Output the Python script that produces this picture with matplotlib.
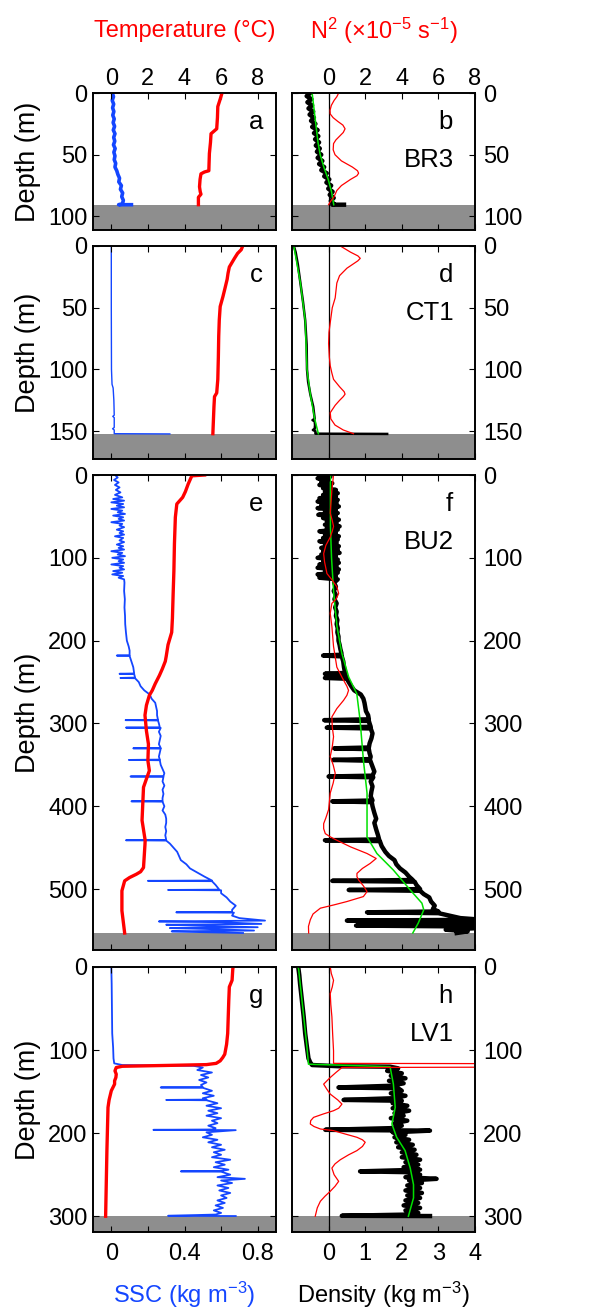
import matplotlib.pyplot as plt

plt.rcParams.update({
    'font.family': ['Liberation Sans', 'DejaVu Sans'],
    'font.size': 17,
    'mathtext.fontset': 'custom',
    'mathtext.rm': 'Liberation Sans',
    'mathtext.it': 'Liberation Sans:italic',
    'axes.linewidth': 1.2,
})

RED = '#ff0000'
BLUE = '#1446ff'
GREEN = '#00e000'
GREY = '#8e8e8e'

# ---- data: (depth m, value) ----
# BR3
a_temp = [(0, 6.05), (5, 5.95), (11, 5.82), (20, 5.8), (29, 5.76), (33, 5.45), (40, 5.42),
          (49, 5.36), (58, 5.34), (63, 5.33), (64, 5.09), (65.5, 4.9), (70, 4.85), (76, 4.82),
          (80, 4.86), (82, 4.9), (84.5, 4.76), (90.5, 4.76)]
a_ssc = [(0, 0.006), (3, 0.012), (6, 0.005), (9, 0.013), (12, 0.007), (15, 0.014), (18, 0.008),
         (21, 0.016), (24, 0.010), (27, 0.018), (30, 0.011), (33, 0.020), (36, 0.013), (39, 0.019),
         (42, 0.012), (45, 0.021), (48, 0.014), (51, 0.020), (54, 0.016), (57, 0.024), (60, 0.020),
         (63, 0.030), (66, 0.036), (69, 0.045), (72, 0.041), (75, 0.055), (78, 0.050), (81, 0.062),
         (84, 0.057), (87, 0.066), (90, 0.060), (90.5, 0.040), (90.5, 0.110)]
b_rho = [(0, -0.5), (2.5, -0.6), (5, -0.47), (7.5, -0.58), (10, -0.45), (12.5, -0.55), (15, -0.42),
         (17.5, -0.52), (20, -0.4), (22.5, -0.48), (25, -0.36), (27.5, -0.45), (30, -0.3),
         (32.5, -0.4), (35, -0.28), (37.5, -0.37), (40, -0.26), (42.5, -0.35), (45, -0.24),
         (47.5, -0.32), (50, -0.2), (52.5, -0.3), (55, -0.17), (57.5, -0.26), (60, -0.12),
         (62.5, -0.2), (65, -0.05), (67.5, -0.12), (70, 0.02), (72.5, -0.06), (75, 0.07),
         (77.5, -0.01), (80, 0.11), (82.5, 0.03), (85, 0.14), (87.5, 0.06), (90, 0.15),
         (90.5, 0.1), (90.5, 0.42)]
b_fit = [(0, -0.45), (20, -0.37), (40, -0.29), (50, -0.23), (60, -0.13), (70, -0.01), (80, 0.08),
         (90.5, 0.14)]
b_n2 = [(0, 0.55), (3, 0.45), (6, 0.3), (10, 0.15), (14, 0.08), (17, 0.09), (20, 0.25), (23, 0.5),
        (26, 0.78), (29, 0.9), (32, 0.8), (35, 0.6), (38, 0.4), (41, 0.27), (46, 0.25), (50, 0.35),
        (55, 0.7), (60, 1.3), (63, 1.58), (65, 1.64), (67, 1.55), (70, 1.2), (75, 0.7), (79, 0.45),
        (84, 0.3), (88, 0.1), (90.5, 0.0)]

# CT1
c_temp = [(0, 7.18), (3, 7.1), (6, 6.9), (10, 6.73), (17, 6.45), (22, 6.38), (27, 6.33), (35, 6.2),
          (41, 6.1), (49, 5.95), (60, 5.9), (73, 5.87), (90, 5.85), (108, 5.82), (119, 5.76),
          (122, 5.64), (130, 5.61), (141, 5.58), (152, 5.55)]
c_ssc = [(0, 0.0), (50, 0.0), (100, 0.001), (112, 0.004), (115, 0.01), (125, 0.014), (137, 0.016),
         (138, 0.008), (139, 0.016), (147, 0.016), (148, 0.007), (149, 0.016), (152, 0.016),
         (152.2, 0.32)]
d_rho = [(0, -0.95), (5, -0.9), (15, -0.84), (30, -0.77), (45, -0.7), (60, -0.64), (80, -0.6),
         (100, -0.59), (110, -0.56), (120, -0.5), (130, -0.42), (140, -0.38), (141, -0.44),
         (142, -0.38), (145, -0.37), (148, -0.38), (149, -0.43), (150, -0.36), (152, -0.36),
         (152.2, 1.6)]
d_fit = [(0, -0.95), (30, -0.77), (60, -0.64), (100, -0.59), (120, -0.5), (140, -0.38), (152, -0.28)]
d_n2 = [(0, 0.64), (5, 1.2), (8, 1.6), (10, 1.73), (12, 1.6), (14, 1.4), (18, 1.0), (24, 0.6),
        (30, 0.45), (42, 0.36), (50, 0.2), (62, 0.09), (70, 0.02), (79, 0.0), (90, 0.04),
        (97, 0.09), (103, 0.18), (108, 0.27), (114, 0.6), (118, 0.85), (120, 0.9), (122, 0.8),
        (125, 0.6), (129, 0.36), (135, 0.09), (140, 0.12), (145, 0.35), (149, 0.8), (152, 1.36)]

# BU2
e_temp = [(0, 5.1), (1, 4.4), (11, 4.2), (20, 4.05), (27, 3.9), (35, 3.58), (51, 3.5), (83, 3.45),
          (116, 3.42), (143, 3.38), (173, 3.34), (190, 3.3), (205, 3.1), (219, 3.0), (225, 2.95),
          (234, 2.79), (242, 2.63), (252, 2.4), (260, 2.24), (266, 2.08), (278, 1.92), (290, 1.84),
          (309, 1.92), (325, 2.03), (345, 2.0), (357, 2.08), (365, 1.95), (377, 1.76), (417, 1.68),
          (441, 1.85), (446, 1.84), (474, 1.76), (479, 1.6), (482, 1.37), (486, 1.0), (490, 0.73),
          (502, 0.58), (526, 0.58), (553, 0.73)]
e_ssc = [(0, 0.02), (3, 0.035), (6, 0.015), (9, 0.04), (12, 0.02), (15, 0.045), (18, 0.025),
         (21, 0.05), (24, 0.02), (27, 0.06), (29, 0.01), (31, 0.07), (33, 0.0), (35, 0.065),
         (37, 0.03), (39, 0.07), (41, 0.0), (43, 0.06), (45, 0.035), (47, 0.075), (49, 0.01),
         (51, 0.065), (53, 0.04), (55, 0.07), (57, 0.0), (59, 0.06), (61, 0.045), (63, 0.07),
         (66, 0.03), (68, 0.065), (70, 0.045), (72, 0.07), (74, 0.02), (76, 0.065), (79, 0.045),
         (81, 0.07), (84, 0.03), (86, 0.065), (88, 0.04), (90, 0.07), (92, 0.0), (94, 0.06),
         (96, 0.035), (98, 0.075), (100, 0.005), (102, 0.065), (104, 0.04), (106, 0.07),
         (108, 0.0), (110, 0.065), (112, 0.045), (114, 0.07), (116, 0.01), (118, 0.06),
         (120, 0.005), (122, 0.065), (124, 0.04), (126, 0.07), (130, 0.072), (140, 0.07),
         (150, 0.074), (160, 0.072), (170, 0.075), (180, 0.076), (190, 0.08), (200, 0.085),
         (207, 0.095), (212, 0.1), (217.6, 0.1), (218, 0.03), (218.4, 0.1), (225, 0.11),
         (232, 0.12), (239.6, 0.125), (240, 0.045), (240.4, 0.125), (244.6, 0.13), (245, 0.05),
         (245.4, 0.13), (250, 0.15), (255, 0.16), (260, 0.18), (265, 0.21), (270, 0.22),
         (275, 0.24), (280, 0.245), (285, 0.25), (290, 0.25), (295.6, 0.255), (296, 0.078),
         (296.4, 0.255), (300, 0.26), (304.6, 0.265), (305, 0.08), (305.4, 0.27), (310, 0.26),
         (315, 0.27), (320, 0.265), (325, 0.26), (329.6, 0.27), (330, 0.12), (330.4, 0.27),
         (335, 0.265), (340, 0.26), (343.6, 0.265), (344, 0.096), (344.4, 0.265), (350, 0.27),
         (355, 0.28), (360, 0.29), (363.6, 0.285), (364, 0.105), (364.4, 0.285), (370, 0.28),
         (375, 0.29), (380, 0.28), (385, 0.285), (390, 0.28), (393.6, 0.28), (394, 0.11),
         (394.4, 0.28), (400, 0.29), (405, 0.28), (410, 0.295), (415, 0.3), (420, 0.3),
         (425, 0.295), (430, 0.3), (435, 0.295), (440.6, 0.3), (441, 0.08), (441.4, 0.3),
         (445, 0.32), (450, 0.34), (455, 0.36), (460, 0.37), (465, 0.38), (470, 0.41), (475, 0.43),
         (480, 0.47), (485, 0.51), (489.6, 0.55), (490, 0.2), (490.4, 0.55), (495, 0.57),
         (500.6, 0.59), (501, 0.31), (501.4, 0.6), (505, 0.6), (510, 0.63), (515, 0.65),
         (520, 0.68), (525, 0.66), (527.6, 0.66), (528, 0.355), (528.4, 0.67), (532, 0.66),
         (535, 0.7), (538, 0.84), (539, 0.26), (540, 0.6), (542, 0.82), (543, 0.3), (544, 0.45),
         (546, 0.8), (547, 0.32), (548, 0.5), (550, 0.78), (551, 0.33), (552, 0.5), (553, 0.72)]
f_rho = [(0, -0.25), (2, 0.05), (4, -0.3), (6, 0.0), (8, -0.2), (10, 0.1), (12, -0.25), (14, 0.05),
         (16, -0.15), (18, 0.2), (20, -0.1), (22, 0.25), (24, -0.15), (26, 0.2), (28, -0.25),
         (30, 0.25), (32, -0.3), (34, 0.22), (36, -0.2), (38, 0.28), (40, -0.3), (42, 0.2),
         (44, -0.1), (46, 0.25), (48, -0.28), (50, 0.2), (52, -0.15), (54, 0.28), (56, -0.05),
         (58, 0.22), (60, -0.1), (62, 0.3), (64, -0.05), (66, 0.25), (68, -0.25), (70, 0.2),
         (72, -0.1), (74, 0.28), (76, -0.15), (78, 0.25), (80, -0.25), (82, 0.22), (84, -0.1),
         (86, 0.28), (88, -0.2), (90, 0.25), (92, -0.15), (94, 0.3), (96, -0.2), (98, 0.2),
         (100, -0.3), (102, 0.25), (104, -0.15), (106, 0.28), (108, -0.25), (110, 0.22),
         (112, -0.3), (114, 0.28), (116, -0.1), (118, 0.25), (120, -0.3), (122, 0.2),
         (124, -0.25), (126, 0.25), (130, 0.15), (135, 0.2), (140, 0.14), (145, 0.2), (150, 0.16),
         (155, 0.22), (160, 0.18), (165, 0.22), (170, 0.2), (175, 0.24), (180, 0.22), (185, 0.25),
         (190, 0.24), (195, 0.27), (200, 0.27), (205, 0.3), (210, 0.32), (215, 0.35), (217, 0.35),
         (218, -0.15), (219, 0.36), (225, 0.4), (232, 0.42), (239, 0.45), (240, -0.1), (241, 0.46),
         (244, 0.48), (245, -0.1), (246, 0.5), (250, 0.55), (255, 0.62), (260, 0.7), (265, 0.88),
         (270, 0.95), (275, 0.98), (280, 1.0), (285, 1.02), (290, 1.08), (295, 1.1), (296, -0.12),
         (297, 1.1), (300, 1.12), (304, 1.15), (305, -0.05), (306, 1.15), (312, 1.2), (318, 1.17),
         (324, 1.12), (329, 1.1), (330, 0.15), (331, 1.1), (336, 1.12), (340, 1.15), (343, 1.13),
         (344, 0.12), (345, 1.14), (352, 1.2), (358, 1.25), (363, 1.2), (364, 0.0), (365, 1.22),
         (370, 1.15), (376, 1.2), (382, 1.17), (388, 1.15), (393, 1.2), (394, 0.1), (395, 1.18),
         (400, 1.2), (408, 1.25), (415, 1.3), (420, 1.25), (428, 1.3), (435, 1.35), (440, 1.38),
         (441, -0.1), (442, 1.4), (448, 1.45), (455, 1.55), (460, 1.65), (465, 1.8), (470, 1.85),
         (475, 1.95), (480, 2.1), (485, 2.2), (489, 2.3), (490, 0.1), (491, 2.35), (495, 2.4),
         (500, 2.5), (501, 0.55), (502, 2.5), (506, 2.6), (510, 2.75), (515, 2.8), (520, 2.9),
         (524, 2.85), (527, 3.0), (528, 1.05), (529, 3.0), (532, 3.3), (535, 3.6), (537, 4.2),
         (538, 0.5), (539, 3.5), (541, 4.2), (543, 3.3), (544, 0.75), (545, 3.6), (547, 4.1),
         (549, 3.2), (551, 3.8), (553, 3.5)]
f_fit = [(0, 0.05), (62, 0.05), (100, 0.08), (143, 0.14), (183, 0.23), (215, 0.36), (244, 0.55),
         (264, 0.77), (296, 0.86), (344, 0.95), (384, 1.05), (437, 1.05), (457, 1.32),
         (477, 1.77), (501, 2.23), (517, 2.55), (525, 2.6), (541, 2.45), (553, 2.3)]
f_n2 = [(0, 0.27), (18, 0.18), (46, 0.09), (55, 0.2), (62, 0.27), (68, 0.2), (75, 0.09), (85, -0.15),
        (95, -0.27), (105, -0.22), (119, -0.09), (127, 0.2), (135, 0.45), (143, 0.55), (150, 0.4),
        (155, 0.18), (167, 0.09), (183, 0.18), (207, 0.27), (232, 0.45), (245, 0.75), (255, 1.0),
        (260, 1.09), (266, 1.0), (272, 0.82), (282, 0.45), (292, 0.18), (304, 0.2), (316, 0.27),
        (328, 0.2), (340, 0.09), (350, 0.25), (360, 0.36), (372, 0.25), (384, 0.09), (404, 0.0),
        (414, -0.15), (421, -0.27), (427, -0.27), (433, -0.18), (437, 0.1), (441, 0.45),
        (449, 1.2), (457, 2.1), (463, 2.6), (469, 2.27), (475, 1.85), (481, 1.55), (485, 1.55),
        (489, 1.64), (496, 1.9), (503, 2.1), (509, 1.9), (515, 1.0), (519, 0.3), (523, -0.45),
        (530, -0.85), (537, -1.0), (545, -1.1), (553, -1.09)]

# LV1
g_temp = [(0, 6.66), (2, 6.64), (16, 6.6), (24, 6.45), (40, 6.42), (80, 6.36), (93, 6.3),
          (105, 6.2), (109, 6.09), (113, 5.95), (116, 5.73), (117.5, 5.2), (118.5, 3.0),
          (119.5, 0.6), (121, 0.27), (125, 0.2), (129, 0.27), (133, 0.25), (137, 0.18), (141, 0.18),
          (149, 0.0), (160, -0.12), (169, -0.18), (221, -0.24), (300, -0.31)]
g_ssc = [(0, 0.0), (20, 0.002), (40, 0.003), (60, 0.004), (80, 0.005), (97, 0.01), (110, 0.012),
         (116, 0.016), (118, 0.06), (119, 0.45), (121, 0.5), (124, 0.47), (127, 0.55), (130, 0.49),
         (133, 0.53), (136, 0.48), (139, 0.52), (142, 0.49), (144.6, 0.5), (145, 0.27),
         (145.4, 0.5), (149, 0.55), (152, 0.5), (155, 0.56), (158, 0.5), (159.6, 0.52),
         (160, 0.3), (160.4, 0.52), (164, 0.58), (167, 0.52), (170, 0.6), (173, 0.53), (176, 0.58),
         (179, 0.52), (182, 0.6), (185, 0.55), (188, 0.58), (191, 0.53), (194, 0.57), (195.6, 0.55),
         (196, 0.23), (196.4, 0.68), (199, 0.52), (202, 0.55), (205, 0.5), (208, 0.58), (211, 0.53),
         (214, 0.6), (217, 0.55), (220, 0.62), (223, 0.56), (226, 0.6), (229, 0.55), (232, 0.65),
         (235, 0.57), (238, 0.62), (241, 0.56), (244, 0.64), (245.6, 0.6), (246, 0.38),
         (246.4, 0.6), (250, 0.65), (253, 0.58), (255, 0.73), (257, 0.6), (260, 0.66), (263, 0.58),
         (266, 0.64), (269, 0.59), (272, 0.65), (275, 0.6), (278, 0.63), (281, 0.58), (284, 0.62),
         (287, 0.57), (290, 0.61), (293, 0.56), (296, 0.6), (298, 0.57), (299.5, 0.31),
         (299.8, 0.68)]
h_rho = [(0, -0.83), (10, -0.8), (20, -0.78), (40, -0.73), (60, -0.68), (80, -0.64), (97, -0.59),
         (110, -0.55), (115, -0.5), (118, -0.45), (119.5, 0.3), (120, 1.68), (122, 1.9), (125, 1.6),
         (128, 2.0), (131, 1.7), (134, 2.1), (137, 1.65), (140, 2.05), (143, 1.7), (145, 0.27),
         (146, 1.9), (149, 2.0), (152, 1.7), (155, 2.1), (158, 1.75), (160, 0.41), (161, 2.0),
         (164, 1.75), (167, 2.15), (170, 1.75), (173, 2.2), (176, 1.8), (179, 2.05), (182, 1.7),
         (185, 2.15), (188, 1.8), (191, 2.0), (194, 1.7), (196, -0.09), (197, 2.77), (199, 1.75),
         (202, 2.1), (205, 1.8), (208, 2.2), (211, 1.85), (214, 2.3), (217, 1.9), (220, 2.35),
         (223, 2.0), (226, 2.4), (229, 2.0), (232, 2.5), (235, 2.1), (238, 2.45), (241, 2.05),
         (244, 2.5), (246, 0.86), (247, 2.2), (250, 2.5), (253, 2.1), (255, 2.95), (257, 2.2),
         (260, 2.55), (263, 2.15), (266, 2.5), (269, 2.1), (272, 2.55), (275, 2.15), (278, 2.5),
         (281, 2.1), (284, 2.45), (287, 2.05), (290, 2.5), (293, 2.1), (296, 2.45), (298, 2.2),
         (299.5, 0.36), (299.8, 2.77)]
h_fit = [(0, -0.84), (2, -0.82), (97, -0.59), (117, -0.55), (120, 1.68), (141, 1.77), (169, 1.82),
         (189, 1.73), (205, 1.86), (221, 2.09), (242, 2.23), (262, 2.32), (278, 2.32), (300, 2.18)]
h_n2 = [(0, 0.09), (8, 0.15), (16, 0.27), (24, 0.2), (32, 0.09), (45, 0.12), (60, 0.18), (80, 0.22),
        (101, 0.27), (112, 0.27), (116, 0.27), (117.5, 40), (119, 40), (121, 0.73), (127, 0.4),
        (133, 0.09), (141, -0.27), (147, -0.1), (153, 0.09), (160, 0.5), (165, 0.73), (170, 0.55),
        (173, 0.27), (177, -0.3), (181, -0.82), (185, -0.98), (189, -1.0), (192, -0.8),
        (195, -0.45), (197, 0.27), (201, 0.9), (205, 1.55), (208, 1.85), (211, 2.0), (216, 1.85),
        (221, 1.55), (226, 1.1), (232, 0.64), (237, 0.35), (242, 0.18), (250, 0.3), (258, 0.55),
        (264, 0.35), (270, 0.09), (276, -0.2), (282, -0.45), (290, -0.62), (300, -0.73)]

stations = ['BR3', 'CT1', 'BU2', 'LV1']
letters = [('a', 'b'), ('c', 'd'), ('e', 'f'), ('g', 'h')]
seabed = [90.5, 152.2, 553, 299.8]
max_depth = [111, 172.5, 573.5, 319]
depth_ticks = [[0, 50, 100], [0, 50, 100, 150], [0, 100, 200, 300, 400, 500], [0, 100, 200, 300]]
temps = [a_temp, c_temp, e_temp, g_temp]
sscs = [a_ssc, c_ssc, e_ssc, g_ssc]
rhos = [b_rho, d_rho, f_rho, h_rho]
fits = [b_fit, d_fit, f_fit, h_fit]
n2s = [b_n2, d_n2, f_n2, h_n2]

# line widths per row
ssc_lw = [2.6, 1.0, 1.3, 1.3]
rho_lw = [3.2, 1.8, 3.2, 3.2]

W, H = 599, 1312
fig = plt.figure(figsize=(W / 100, H / 100), dpi=100)


def box(x0, x1, y0, y1):
    return [x0 / W, 1 - y1 / H, (x1 - x0) / W, (y1 - y0) / H]


def xy(pairs):
    z, v = zip(*pairs)
    return list(v), list(z)


rows_px = [(93, 230), (246, 459), (475, 950), (967, 1232)]

for i in range(4):
    y0, y1 = rows_px[i]
    top, bottom = (i == 0), (i == 3)

    # ---- left: SSC (bottom axis) and temperature (top axis)
    ax = fig.add_axes(box(93, 276, y0, y1))
    ax.axhspan(seabed[i], max_depth[i], color=GREY, lw=0, zorder=0.5)
    x, z = xy(sscs[i])
    ax.plot(x, z, color=BLUE, lw=ssc_lw[i], zorder=2)
    ax.set_xlim(-0.1, 0.9)
    ax.set_ylim(max_depth[i], 0)
    ax.set_yticks(depth_ticks[i])
    ax.set_xticks([0, 0.2, 0.4, 0.6, 0.8])
    ax.set_xticklabels(['0', '', '0.4', '', '0.8'])
    ax.tick_params(axis='x', direction='in', length=4, bottom=True, top=False,
                   labelbottom=bottom, pad=8)
    ax.tick_params(axis='y', direction='in', length=4, left=True, right=True, pad=4)
    ax.set_ylabel('Depth (m)', fontsize=19.5, labelpad=5)
    tw = ax.twiny()
    x, z = xy(temps[i])
    tw.plot(x, z, color=RED, lw=2.4)
    tw.set_xlim(-1, 9)
    tw.set_xticks([0, 2, 4, 6, 8])
    tw.tick_params(axis='x', direction='in', length=4, top=True, bottom=False,
                   labeltop=top, labelbottom=False, pad=2)
    ax.annotate(letters[i][0], xy=(1, 1), xycoords='axes fraction', xytext=(-13, -36),
                textcoords='offset pixels', ha='right', va='baseline', fontsize=18.5)

    # ---- right: density (bottom axis) and N^2 (top axis)
    ax = fig.add_axes(box(292, 475, y0, y1))
    ax.axhspan(seabed[i], max_depth[i], color=GREY, lw=0, zorder=0.5)
    ax.axvline(0, color='k', lw=0.9, zorder=1)
    x, z = xy(rhos[i])
    ax.plot(x, z, color='k', lw=rho_lw[i], zorder=2)
    x, z = xy(fits[i])
    ax.plot(x, z, color=GREEN, lw=1.1, zorder=3)
    ax.set_xlim(-1, 4)
    ax.set_ylim(max_depth[i], 0)
    ax.set_yticks(depth_ticks[i])
    ax.set_xticks([0, 1, 2, 3, 4])
    ax.tick_params(axis='x', direction='in', length=4, bottom=True, top=False,
                   labelbottom=bottom, pad=8)
    ax.tick_params(axis='y', direction='in', length=4, left=True, right=True,
                   labelleft=False, labelright=True, pad=6)
    tw = ax.twiny()
    x, z = xy(n2s[i])
    tw.plot(x, z, color=RED, lw=0.9)
    tw.set_xlim(-2, 8)
    tw.set_xticks([0, 2, 4, 6, 8])
    tw.tick_params(axis='x', direction='in', length=4, top=True, bottom=False,
                   labeltop=top, labelbottom=False, pad=2)
    ax.annotate(letters[i][1], xy=(1, 1), xycoords='axes fraction', xytext=(-22, -36),
                textcoords='offset pixels', ha='right', va='baseline', fontsize=18.5)
    ax.annotate(stations[i], xy=(1, 1), xycoords='axes fraction', xytext=(-21, -74),
                textcoords='offset pixels', ha='right', va='baseline', fontsize=18.5)

fig.text(184.5 / W, 1 - 31 / H, 'Temperature (°C)', color=RED, ha='center', va='center')
fig.text(383.5 / W, 1 - 31 / H, 'N$^2$ (×10$^{-5}$ s$^{-1}$)', color=RED, ha='center', va='center')
fig.text(184.5 / W, 1 - 1295 / H, 'SSC (kg m$^{-3}$)', color=BLUE, ha='center', va='center')
fig.text(383.5 / W, 1 - 1295 / H, 'Density (kg m$^{-3}$)', color='k', ha='center', va='center')

fig.savefig('out.png', dpi=100)
